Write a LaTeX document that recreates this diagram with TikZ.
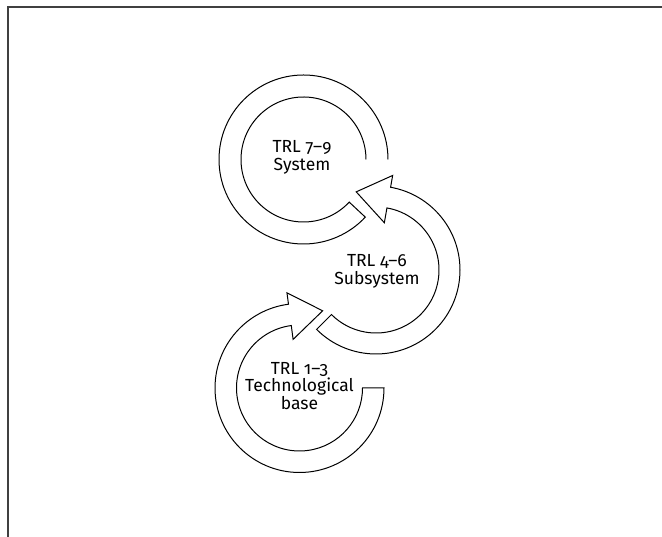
\documentclass[tikz,border=0pt]{standalone}
\usepackage{fontspec}
\setmainfont{Fira Sans}[Numbers=OldStyle]
\begin{document}
\begin{tikzpicture}[x=1pt,y=1pt,
  ring/.style={draw=black,line width=1pt,line join=miter},
  frameline/.style={draw=black!75,line width=1.2pt},
  lbl/.style={align=center,font=\fontsize{17.5}{17.7}\selectfont,inner sep=0pt}]
\useasboundingbox (0,0) rectangle (662,537);
\draw[frameline] (8,0) -- (8,530) -- (662,530);
\coordinate (ct) at (303.5,377.5);
\coordinate (cm) at (376,267);
\coordinate (cb) at (299.5,149);
% top ring (open end at right)
\draw[ring] ([shift={(ct)}]0:84.5) arc[start angle=0,end angle=317,radius=84.5]
  -- ([shift={(ct)}]317:62.5) arc[start angle=317,end angle=0,radius=62.5];
% middle ring with arrow
\draw[ring] ([shift={(cm)}]225:84) arc[start angle=225,end angle=440,radius=84]
  -- ([shift={(cm)}]440:96) -- ([shift={(cm)}]464.2:80.6) -- ([shift={(cm)}]440:48)
  -- ([shift={(cm)}]440:63) arc[start angle=440,end angle=225,radius=63] -- cycle;
% bottom ring with arrow
\draw[ring] ([shift={(cb)}]0:63) -- ([shift={(cb)}]0:84.5) arc[start angle=0,end angle=-262.5,radius=84.5]
  -- ([shift={(cb)}]-262.5:96) -- ([shift={(cb)}]-286.7:80.6) -- ([shift={(cb)}]-262.5:49)
  -- ([shift={(cb)}]-262.5:63) arc[start angle=-262.5,end angle=0,radius=63] -- cycle;
\node[lbl] (t1) at (302,380) {TRL 7–9\\System};
\node[lbl] (t2) at (377,266) {TRL 4–6\\Subsystem};
\node[lbl] (t3) at (299.5,151) {TRL 1–3\\Technological\\base};
\end{tikzpicture}
\end{document}
